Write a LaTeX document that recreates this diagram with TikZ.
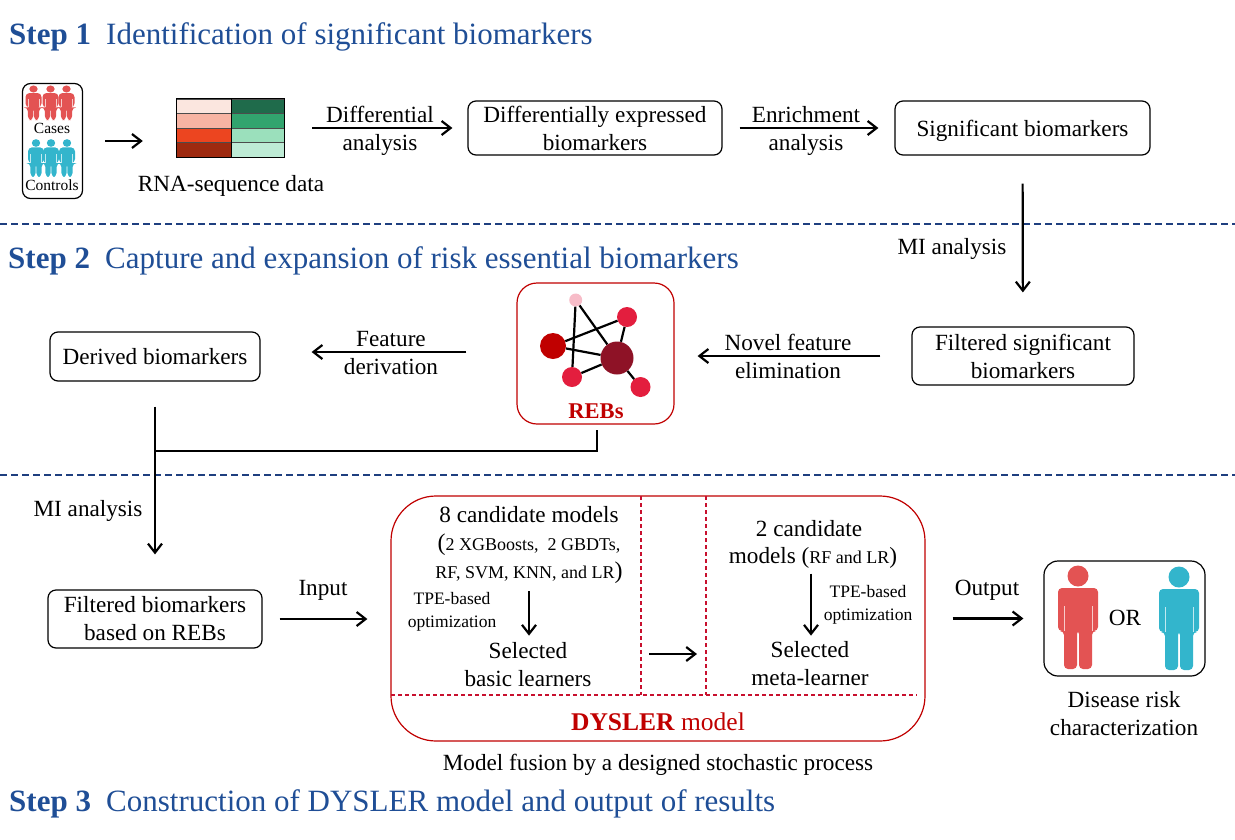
\documentclass[tikz,border=0pt]{standalone}
\usepackage{fontspec}
\setmainfont{Liberation Serif}
\usepackage{tikz}
\usetikzlibrary{arrows.meta}
\definecolor{stepblue}{HTML}{1F4E96}
\definecolor{dashblue}{HTML}{1F3F7F}
\definecolor{rebred}{HTML}{C00000}
\definecolor{dashred}{HTML}{C8102E}
\definecolor{casered}{HTML}{E35353}
\definecolor{ctrlblue}{HTML}{33B5CC}
\definecolor{nodepink}{HTML}{F7BCC8}
\definecolor{noderose}{HTML}{E31E3E}
\definecolor{nodewine}{HTML}{8E1226}
\tikzset{
	pics/person/.style={code={
		\fill[#1] (0,0) circle (10.5);
		\fill[#1, rounded corners=4] (-20,12) -- (20,12) -- (20,55) -- (14,55) -- (14,93) -- (1,93) -- (1,54) -- (-1,54) -- (-1,93) -- (-14,93) -- (-14,55) -- (-20,55) -- cycle;
		\draw[white!70!#1, line width=.5pt] (-14,30) -- (-14,55) (14,30) -- (14,55);
	}},
	box/.style={draw, rounded corners=8, line width=1.2pt},
	redbox/.style={draw=rebred, line width=1.2pt},
	reddash/.style={dashred, line width=1.2pt, dash pattern=on 4pt off 3pt},
	flow/.style={->, line width=2.2pt},
	link/.style={line width=2.2pt},
	netnode/.style={circle, minimum size=#1},
	stepname/.style={anchor=base west, text=stepblue, font=\fontsize{31}{31}\selectfont\bfseries},
	steptitle/.style={anchor=base west, text=stepblue, font=\fontsize{31}{31}\selectfont},
	minitext/.style={font=\fontsize{15.5}{15.5}\selectfont},
	tpetext/.style={font=\fontsize{17.5}{23}\selectfont},
	listtext/.style={font=\fontsize{18}{18}\selectfont},
}
\newcommand{\bigparen}[1]{{\fontsize{24}{24}\selectfont #1}}
\begin{document}
\begin{tikzpicture}[x=1pt, y=-1pt, inner sep=0pt, align=center, every node/.style={font=\fontsize{23.2}{28}\selectfont}, >={Straight Barb[length=9pt, width=14pt]}]
	\useasboundingbox (0,0) rectangle (1235,839);
	% step titles
	\node[stepname] (step1) at (9,44.5) {Step 1};
	\node[steptitle] (title1) at (106,44.5) {Identification of significant biomarkers};
	\node[stepname] (step2) at (8,268.5) {Step 2};
	\node[steptitle] (title2) at (105,268.5) {Capture and expansion of risk essential biomarkers};
	\node[stepname] (step3) at (9,811) {Step 3};
	\node[steptitle] (title3) at (106,811) {Construction of DYSLER model and output of results};
	\foreach \yy in {224,475} {\draw[dashblue, line width=1.6pt, dash pattern=on 7pt off 4pt] (0,\yy) -- (1235,\yy);}
	% step 1
	\node[box, minimum width=60, minimum height=115] (samples) at (52.5,141) {};
	\foreach \xx in {33.5,50.5,66.5} {\pic[xscale=.4, yscale=.335] at (\xx,89) {person=casered};}
	\foreach \xx in {36,51,67} {\pic[xscale=.4, yscale=.365] at (\xx,143) {person=ctrlblue};}
	\node[minitext] (cases) at (52,128) {Cases};
	\node[minitext] (controls) at (52,185) {Controls};
	\node[minimum width=107, minimum height=58] (heatmap) at (230.5,128) {};
	\foreach \row/\lc/\rc in {0/FBE6DF/1F6B4B,1/F7B4A3/32A46E,2/EC4520/9BE0BC,3/9E2A10/BEEBD5} {
		\definecolor{leftcell}{HTML}{\lc}
		\definecolor{rightcell}{HTML}{\rc}
		\fill[leftcell] (177,99+14.5*\row) rectangle (231,99+14.5+14.5*\row);
		\fill[rightcell] (231,99+14.5*\row) rectangle (284,99+14.5+14.5*\row);
		\draw[black!70, line width=.8pt] (177,99+14.5*\row) -- (284,99+14.5*\row);
	}
	\draw[line width=.8pt] (heatmap.north west) rectangle (heatmap.south east) (231,99) -- (231,157);
	\node (rnadata) at (231,186) {RNA-sequence data};
	\node[box, minimum width=254, minimum height=54] (degs) at (595,128) {Differentially expressed\\biomarkers};
	\node[box, minimum width=255, minimum height=54, text depth=0pt] (sigbio) at (1022.5,128) {Significant biomarkers};
	\draw[flow, shorten <=22, shorten >=34] (samples) -- (samples -| heatmap.west);
	\draw[flow, shorten <=28, shorten >=15] (heatmap) -- (degs);
	\draw[flow, shorten <=17, shorten >=16] (degs) -- (sigbio);
	\node (difflabel) at (380,131) {Differential\\analysis};
	\node (enrichlabel) at (806,131) {Enrichment\\analysis};
	% step 2
	\node[box, minimum width=222, minimum height=58] (filtsig) at (1023,356) {Filtered significant\\biomarkers};
	\node[redbox, rounded corners=20, minimum width=157, minimum height=141] (rebs) at (595.5,353.5) {};
	\node[box, minimum width=210, minimum height=49] (derived) at (155,356.5) {Derived biomarkers};
	\draw[flow, shorten <=28, shorten >=34] (sigbio) -- (filtsig);
	\node (milabel1) at (952,249) {MI analysis};
	\draw[flow, shorten <=31, shorten >=23] (filtsig.west) -- (filtsig.west -| rebs.east);
	\node (novellabel) at (788,356) {Novel feature\\elimination};
	\draw[flow, shorten <=50, shorten >=51] (rebs.west) ++(0,-1.5) coordinate (featfrom) -- (featfrom -| derived.east);
	\node (featlabel) at (391,353) {Feature\\derivation};
	% REB network
	\node[netnode=13, fill=nodepink] (n1) at (575.7,300) {};
	\node[netnode=20, fill=noderose] (n2) at (627,317) {};
	\node[netnode=26, fill=rebred] (n3) at (553,346) {};
	\node[netnode=33, fill=nodewine] (n4) at (617,358) {};
	\node[netnode=20, fill=noderose] (n5) at (572,377) {};
	\node[netnode=20, fill=noderose] (n6) at (640.5,387) {};
	\foreach \a/\b in {n1/n4,n1/n5,n3/n2,n3/n4,n2/n4,n5/n4,n4/n6} {\draw[link] (\a) -- (\b);}
	\node[text=rebred, font=\fontsize{22.5}{28}\selectfont\bfseries] (reblabel) at (596,411) {REBs};
	% step 3
	\node[box, minimum width=214, minimum height=58] (filtbio) at (155,619) {Filtered biomarkers\\based on REBs};
	\coordinate (rebsout) at (597,430);
	\coordinate (join) at (155,451);
	\draw[link] (rebsout) |- (join);
	\draw[flow, shorten <=25, shorten >=35] (derived) -- (filtbio);
	\node (milabel2) at (88,511) {MI analysis};
	\node[redbox, rounded corners=45, minimum width=534, minimum height=245] (dysler) at (658,618.5) {};
	\foreach \xx in {641,706} {\draw[reddash] (\xx,496) -- (\xx,695);}
	\draw[reddash] (391,695) -- (917,695);
	\node (cand8) at (529,515) {8 candidate models};
	\node[listtext] (list1) at (529,545) {\bigparen{(}2 XGBoosts,\ \ 2 GBDTs,};
	\node[listtext] (list2) at (529,573) {RF, SVM, KNN, and LR\bigparen{)}};
	\node[tpetext] (tpe1) at (452,612) {TPE-based\\optimization};
	\node (selbasic) at (528,665) {Selected\\basic learners};
	\draw[flow, shorten <=7, shorten >=7] (list2.south -| 529,0) -- (selbasic.north -| 529,0);
	\node (cand2) at (809,529) {2 candidate};
	\node (cand2b) at (813,558) {models (\fontsize{18}{18}\selectfont RF and LR\fontsize{23.2}{28}\selectfont)};
	\node[tpetext] (tpe2) at (868,605) {TPE-based\\optimization};
	\node (selmeta) at (810,664) {Selected\\meta-learner};
	\draw[flow, shorten <=5, shorten >=6] (cand2b.south -| 811,0) -- (selmeta.north -| 811,0);
	\coordinate (midfrom) at (649,654);
	\coordinate (midto) at (697,654);
	\draw[flow] (midfrom) -- (midto);
	\node[text=rebred, font=\fontsize{25.5}{28}\selectfont] (dyslerlabel) at (658,722) {\textbf{DYSLER} model};
	\node (fusion) at (658,765) {Model fusion by a designed stochastic process};
	\draw[flow, shorten <=17, shorten >=23] (filtbio.east) -- (filtbio.east -| dysler.west);
	\node (inputlabel) at (323,590) {Input};
	\node[box, rounded corners=14, minimum width=161, minimum height=115] (risk) at (1124.5,618.5) {};
	\draw[flow, shorten <=27, shorten >=20] (dysler.east) -- (dysler.east -| risk.west);
	\node (outputlabel) at (987,590) {Output};
	\pic at (1078,576) {person=casered};
	\pic at (1179,577) {person=ctrlblue};
	\node (orlabel) at (1125,618) {OR};
	\node (risklabel) at (1124,714) {Disease risk\\characterization};
\end{tikzpicture}
\end{document}
